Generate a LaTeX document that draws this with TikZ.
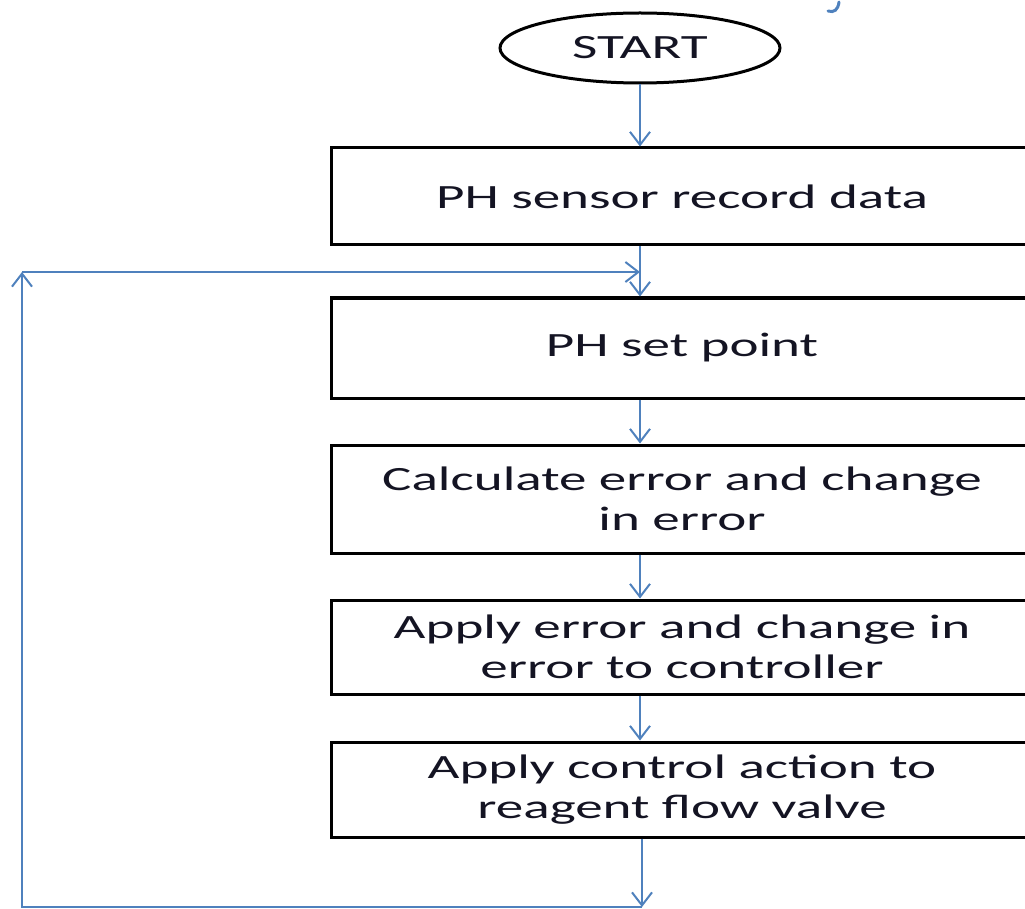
\documentclass[tikz,border=0pt]{standalone}
\usepackage{fontspec}
\setmainfont[FakeStretch=1.62]{Carlito}
\usetikzlibrary{shapes.geometric,arrows.meta}
\definecolor{flowblue}{RGB}{79,129,189}
\definecolor{txt}{RGB}{20,20,35}
\begin{document}
\begin{tikzpicture}[x=1pt,y=-1pt,
  stepbox/.style={draw,line width=3pt,minimum width=702pt,inner sep=0pt,align=center,text=txt,font=\fontsize{34}{40}\selectfont},
  startnode/.style={draw,ellipse,line width=3pt,minimum width=280pt,minimum height=70pt,inner sep=0pt,text=txt,font=\fontsize{34}{40}\selectfont},
  flow/.style={draw=flowblue,line width=2pt},
  arr/.style={flow,-{Straight Barb[length=13pt,width=20pt]}}]
\useasboundingbox (0,0) rectangle (1025,909);
\clip (0,0) rectangle (1025,909);

\node[startnode] (start) at (640,48) {START};
\node[stepbox,minimum height=97pt] (b1) at (682,196.5) {PH sensor record data};
\node[stepbox,minimum height=100pt] (b2) at (682,348) {PH set point};
\node[stepbox,minimum height=108pt] (b3) at (682,499) {Calculate error and change\\in error};
\node[stepbox,minimum height=94pt] (b4) at (682,647) {Apply error and change in\\error to controller};
\node[stepbox,minimum height=95pt] (b5) at (682,789.5) {Apply control action to\\reagent flow valve};

\coordinate (jn) at (640,272);
\coordinate (bot) at (642,907);
\coordinate (bl) at (22,907);
\coordinate (tl) at (22,272);

\draw[arr] (start.south) -- (start.south |- b1.north);
\draw[arr] (b1.south -| start) -- (b2.north -| start);
\draw[arr] (b2.south -| start) -- (b3.north -| start);
\draw[arr] (b3.south -| start) -- (b4.north -| start);
\draw[arr] (b4.south -| start) -- (b5.north -| start);
\draw[arr] (b5.south -| bot) -- (bot);
\draw[arr] (bot) -- (bl) -- (tl);
\draw[arr] (tl) -- (jn);

% small blue mark at the top edge
\draw[flowblue,line width=3pt,line cap=round] (839,2) .. controls (838,10) and (834,13) .. (828,11);
\end{tikzpicture}
\end{document}
